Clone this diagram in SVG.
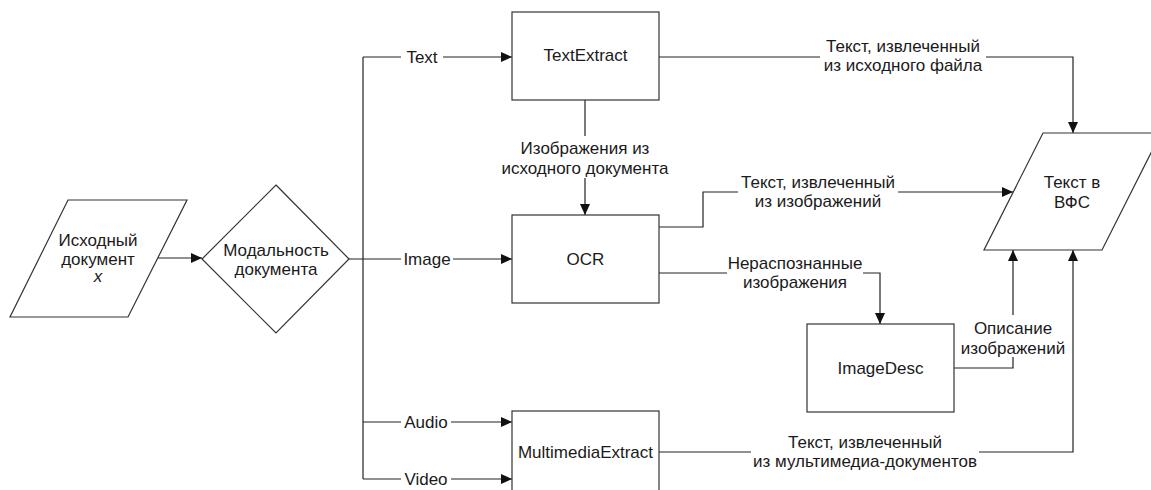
<svg xmlns="http://www.w3.org/2000/svg" width="1151" height="490" viewBox="0 0 1151 490">
<style>
.shape{fill:#fff;stroke:#333;stroke-width:1.2}
.line{fill:none;stroke:#222;stroke-width:1.2}
text{font-family:"Liberation Sans",Arial,sans-serif;font-size:17px;fill:#1a1a1a;text-anchor:middle}
.bg{fill:#fff}
</style>
<defs>
<marker id="arr" markerUnits="userSpaceOnUse" markerWidth="12" markerHeight="10" refX="11" refY="5" orient="auto">
<path d="M0,0 L11,5 L0,10 Z" fill="#111"/>
</marker>
</defs>
<rect width="1151" height="490" fill="#fff"/>
<g id="connectors">
<path class="line" d="M158,258 H202" marker-end="url(#arr)"/>
<path class="line" d="M349,259 H512" marker-end="url(#arr)"/>
<path class="line" d="M363,57 V479"/>
<path class="line" d="M363,57 H512" marker-end="url(#arr)"/>
<path class="line" d="M363,422 H512" marker-end="url(#arr)"/>
<path class="line" d="M363,479 H512" marker-end="url(#arr)"/>
<path class="line" d="M585,100 V215" marker-end="url(#arr)"/>
<path class="line" d="M659,57 H1073 V133" marker-end="url(#arr)"/>
<path class="line" d="M659,227 H703 V192 H1013" marker-end="url(#arr)"/>
<path class="line" d="M659,273 H880 V324" marker-end="url(#arr)"/>
<path class="line" d="M954,368 H1013 V250" marker-end="url(#arr)"/>
<path class="line" d="M659,452 H1073 V250" marker-end="url(#arr)"/>
<g id="labels">
<rect class="bg" x="401" y="48" width="42" height="18"/>
<text x="422" y="63">Text</text>
<rect class="bg" x="401" y="250" width="52" height="18"/>
<text x="427" y="265">Image</text>
<rect class="bg" x="401" y="413" width="50" height="18"/>
<text x="426" y="428">Audio</text>
<rect class="bg" x="401" y="470" width="50" height="18"/>
<text x="426" y="485">Video</text>
<rect class="bg" x="500" y="136" width="170" height="42"/>
<text x="585" y="154">Изображения из</text>
<text x="585" y="174">исходного документа</text>
<rect class="bg" x="820" y="35" width="166" height="40"/>
<text x="903" y="52">Текст, извлеченный</text>
<text x="903" y="71">из исходного файла</text>
<rect class="bg" x="738" y="171" width="160" height="40"/>
<text x="818" y="188">Текст, извлеченный</text>
<text x="818" y="207">из изображений</text>
<rect class="bg" x="727" y="252" width="136" height="40"/>
<text x="795" y="269">Нераспознанные</text>
<text x="795" y="288">изображения</text>
<rect class="bg" x="958" y="315" width="110" height="42"/>
<text x="1013" y="334">Описание</text>
<text x="1013" y="354">изображений</text>
<rect class="bg" x="751" y="431" width="228" height="40"/>
<text x="865" y="448">Текст, извлеченный</text>
<text x="865" y="467">из мультимедиа-документов</text>
</g>
</g>
<g id="input">
<polygon class="shape" points="68,200 187,200 128,317 10,317"/>
<text x="98" y="246">Исходный</text>
<text x="98" y="265">документ</text>
<text x="98" y="282" font-style="italic">x</text>
</g>
<g id="modality">
<polygon class="shape" points="276,185 349,259 276,333 202,259"/>
<text x="276" y="256">Модальность</text>
<text x="276" y="275">документа</text>
</g>
<g id="textextract">
<rect class="shape" x="512" y="12" width="147" height="88"/>
<text x="585.5" y="61">TextExtract</text>
</g>
<g id="ocr">
<rect class="shape" x="512" y="215" width="147" height="88"/>
<text x="585.5" y="265">OCR</text>
</g>
<g id="imagedesc">
<rect class="shape" x="807" y="324" width="147" height="88"/>
<text x="880.5" y="374">ImageDesc</text>
</g>
<g id="multimediaextract">
<rect class="shape" x="512" y="411" width="147" height="88"/>
<text x="585.5" y="458">MultimediaExtract</text>
</g>
<g id="output">
<polygon class="shape" points="1043,133 1161,133 1102,250 984,250"/>
<text x="1072" y="188">Текст в</text>
<text x="1072" y="208">ВФС</text>
</g>
</svg>
